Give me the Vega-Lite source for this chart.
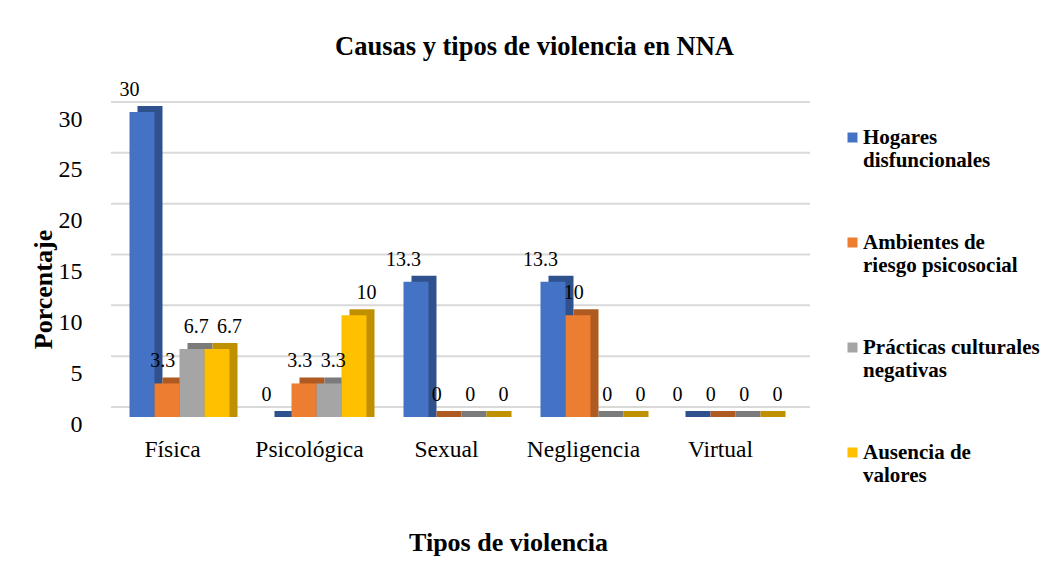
{
  "$schema": "https://vega.github.io/schema/vega-lite/v6.json",
  "width": 685,
  "height": 305,
  "autosize": {"type": "none"},
  "padding": {"left": 111, "top": 112, "right": 251, "bottom": 155},
  "background": "white",
  "config": {"view": {"stroke": null}, "font": "Liberation Serif"},
  "title": {
    "text": "Causas y tipos de violencia en NNA",
    "font": "Liberation Serif",
    "fontSize": 26.5,
    "fontWeight": "bold",
    "color": "#000000",
    "anchor": "middle",
    "frame": "group",
    "dx": 81,
    "dy": 4,
    "offset": 3,
    "baseline": "alphabetic"
  },
  "datasets": {
    "bars": [
      {"tipo": "Física", "causa": "Hogares disfuncionales", "valor": 30},
      {"tipo": "Física", "causa": "Ambientes de riesgo psicosocial", "valor": 3.3},
      {"tipo": "Física", "causa": "Prácticas culturales negativas", "valor": 6.7},
      {"tipo": "Física", "causa": "Ausencia de valores", "valor": 6.7},
      {"tipo": "Psicológica", "causa": "Hogares disfuncionales", "valor": 0},
      {"tipo": "Psicológica", "causa": "Ambientes de riesgo psicosocial", "valor": 3.3},
      {"tipo": "Psicológica", "causa": "Prácticas culturales negativas", "valor": 3.3},
      {"tipo": "Psicológica", "causa": "Ausencia de valores", "valor": 10},
      {"tipo": "Sexual", "causa": "Hogares disfuncionales", "valor": 13.3},
      {"tipo": "Sexual", "causa": "Ambientes de riesgo psicosocial", "valor": 0},
      {"tipo": "Sexual", "causa": "Prácticas culturales negativas", "valor": 0},
      {"tipo": "Sexual", "causa": "Ausencia de valores", "valor": 0},
      {"tipo": "Negligencia", "causa": "Hogares disfuncionales", "valor": 13.3},
      {"tipo": "Negligencia", "causa": "Ambientes de riesgo psicosocial", "valor": 10},
      {"tipo": "Negligencia", "causa": "Prácticas culturales negativas", "valor": 0},
      {"tipo": "Negligencia", "causa": "Ausencia de valores", "valor": 0},
      {"tipo": "Virtual", "causa": "Hogares disfuncionales", "valor": 0},
      {"tipo": "Virtual", "causa": "Ambientes de riesgo psicosocial", "valor": 0},
      {"tipo": "Virtual", "causa": "Prácticas culturales negativas", "valor": 0},
      {"tipo": "Virtual", "causa": "Ausencia de valores", "valor": 0}
    ],
    "grid": [
      {"v": 0}, {"v": 5}, {"v": 10}, {"v": 15}, {"v": 20}, {"v": 25}, {"v": 30}
    ]
  },
  "layer": [
    {
      "data": {"name": "grid"},
      "mark": {"type": "rule", "color": "#d9d9d9", "strokeWidth": 2, "xOffset": 14, "x2Offset": 14, "yOffset": -10},
      "encoding": {
        "y": {
          "field": "v",
          "type": "quantitative",
          "scale": {"domain": [0, 30], "nice": false, "zero": true},
          "axis": {
            "title": "Porcentaje",
            "titleFont": "Liberation Serif",
            "titleFontSize": 26,
            "titleFontWeight": "bold",
            "titleColor": "#000000",
            "titleAngle": -90,
            "titleX": -60,
            "titleY": 177,
            "titleAlign": "center",
            "titleBaseline": "alphabetic",
            "values": [0, 5, 10, 15, 20, 25, 30],
            "grid": false,
            "domain": false,
            "ticks": false,
            "labelPadding": 29,
            "labelOffset": 7,
            "labelFont": "Liberation Serif",
            "labelFontSize": 24,
            "labelColor": "#000000"
          }
        }
      }
    },
    {
      "data": {"name": "bars"},
      "encoding": {
        "x": {
          "field": "tipo",
          "type": "nominal",
          "sort": ["Física", "Psicológica", "Sexual", "Negligencia", "Virtual"],
          "scale": {"paddingInner": 0.27, "paddingOuter": 0.135},
          "axis": {
            "title": "Tipos de violencia",
            "titleFont": "Liberation Serif",
            "titleFontSize": 26,
            "titleFontWeight": "bold",
            "titleColor": "#000000",
            "titleX": 397,
            "titleY": 133,
            "titleAlign": "center",
            "titleBaseline": "alphabetic",
            "domain": false,
            "ticks": false,
            "labelAngle": 0,
            "labelPadding": 20,
            "labelOffset": -7,
            "labelFont": "Liberation Serif",
            "labelFontSize": 23.5,
            "labelColor": "#000000"
          }
        },
        "y": {
          "field": "valor",
          "type": "quantitative",
          "stack": null,
          "title": "Porcentaje",
          "scale": {"domain": [0, 30], "nice": false}
        }
      },
      "layer": [
        {
          "mark": {"type": "bar", "yOffset": -6},
          "encoding": {
            "xOffset": {
              "field": "causa",
              "sort": ["Hogares disfuncionales", "Ambientes de riesgo psicosocial", "Prácticas culturales negativas", "Ausencia de valores"],
              "scale": {"range": [8, 108], "paddingInner": 0, "paddingOuter": 0}
            },
            "color": {
              "field": "causa",
              "type": "nominal",
              "scale": {
                "domain": ["Hogares disfuncionales", "Ambientes de riesgo psicosocial", "Prácticas culturales negativas", "Ausencia de valores"],
                "range": ["#2F528F", "#AE5A21", "#7B7B7B", "#BF9000"]
              },
              "legend": null
            }
          }
        },
        {
          "mark": {"type": "bar"},
          "encoding": {
            "xOffset": {
              "field": "causa",
              "sort": ["Hogares disfuncionales", "Ambientes de riesgo psicosocial", "Prácticas culturales negativas", "Ausencia de valores"],
              "scale": {"range": [0, 100], "paddingInner": 0, "paddingOuter": 0}
            },
            "color": {
              "field": "causa",
              "type": "nominal",
              "scale": {
                "domain": ["Hogares disfuncionales", "Ambientes de riesgo psicosocial", "Prácticas culturales negativas", "Ausencia de valores"],
                "range": ["#4472C4", "#ED7D31", "#A5A5A5", "#FFC000"]
              },
              "legend": {
                "orient": "none",
                "legendX": 731,
                "legendY": 15,
                "title": null,
                "direction": "vertical",
                "symbolType": "square",
                "symbolSize": 100,
                "symbolStrokeWidth": 0,
                "labelFont": "Liberation Serif",
                "labelFontSize": 21,
                "labelFontWeight": "bold",
                "labelColor": "#000000",
                "labelLineHeight": 25.7,
                "labelLimit": 300,
                "labelOffset": 0,
                "labelBaseline": "middle",
                "rowPadding": 60,
                "labelExpr": "datum.label == 'Hogares disfuncionales' ? ['Hogares', 'disfuncionales'] : datum.label == 'Ambientes de riesgo psicosocial' ? ['Ambientes de', 'riesgo psicosocial'] : datum.label == 'Prácticas culturales negativas' ? ['Prácticas culturales', 'negativas'] : ['Ausencia de', 'valores']"
              }
            }
          }
        },
        {
          "mark": {"type": "text", "dy": -16, "baseline": "alphabetic", "font": "Liberation Serif", "fontSize": 20, "color": "#000000"},
          "encoding": {
            "xOffset": {
              "field": "causa",
              "sort": ["Hogares disfuncionales", "Ambientes de riesgo psicosocial", "Prácticas culturales negativas", "Ausencia de valores"],
              "scale": {"range": [0, 100], "paddingInner": 0, "paddingOuter": 0}
            },
            "text": {"field": "valor", "type": "quantitative"}
          }
        }
      ],
      "resolve": {"scale": {"xOffset": "independent", "color": "independent"}}
    }
  ]
}
